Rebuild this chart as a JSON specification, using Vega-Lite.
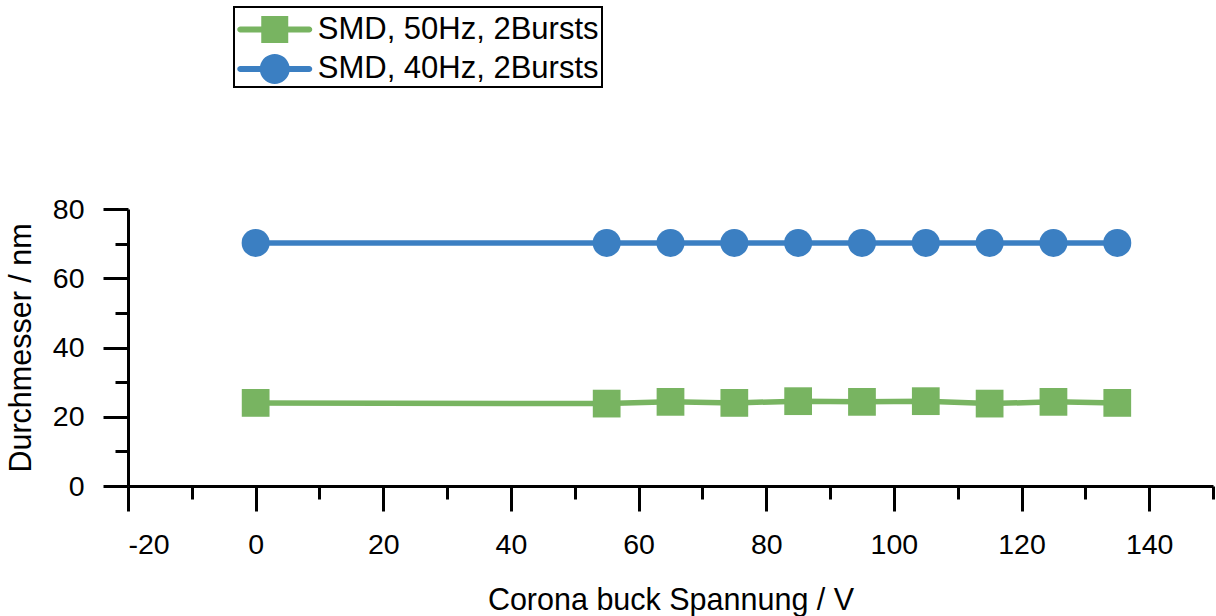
{
  "$schema": "https://vega.github.io/schema/vega-lite/v6.json",
  "autosize": {"type": "none"},
  "padding": {"left": 128, "top": 209, "right": 3, "bottom": 130},
  "width": 1085,
  "height": 277,
  "background": "white",
  "config": {
    "view": {"stroke": null},
    "font": "Liberation Sans",
    "axis": {"grid": false}
  },
  "data": {
    "values": [
      {"series": "A", "v": 0, "d": 24.0},
      {"series": "A", "v": 55, "d": 23.8},
      {"series": "A", "v": 65, "d": 24.3},
      {"series": "A", "v": 75, "d": 24.0},
      {"series": "A", "v": 85, "d": 24.5},
      {"series": "A", "v": 95, "d": 24.3},
      {"series": "A", "v": 105, "d": 24.5},
      {"series": "A", "v": 115, "d": 23.8},
      {"series": "A", "v": 125, "d": 24.3},
      {"series": "A", "v": 135, "d": 24.0},
      {"series": "B", "v": 0, "d": 70.2},
      {"series": "B", "v": 55, "d": 70.2},
      {"series": "B", "v": 65, "d": 70.2},
      {"series": "B", "v": 75, "d": 70.2},
      {"series": "B", "v": 85, "d": 70.2},
      {"series": "B", "v": 95, "d": 70.2},
      {"series": "B", "v": 105, "d": 70.2},
      {"series": "B", "v": 115, "d": 70.2},
      {"series": "B", "v": 125, "d": 70.2},
      {"series": "B", "v": 135, "d": 70.2}
    ]
  },
  "resolve": {"axis": {"x": "independent", "y": "independent"}},
  "layer": [
    {
      "mark": {"type": "point", "filled": true, "opacity": 0},
      "encoding": {
        "x": {
          "field": "v", "type": "quantitative",
          "scale": {"domain": [-20, 150], "nice": false, "zero": false},
          "axis": {
            "orient": "bottom", "values": [-10, 10, 30, 50, 70, 90, 110, 130, 150],
            "labels": false, "domain": false, "ticks": true, "tickSize": 13, "tickWidth": 3,
            "tickColor": "black", "title": null, "grid": false
          }
        },
        "y": {
          "field": "d", "type": "quantitative",
          "scale": {"domain": [0, 80], "nice": false},
          "axis": {
            "orient": "left", "values": [10, 30, 50, 70],
            "labels": false, "domain": false, "ticks": true, "tickSize": 13, "tickWidth": 3,
            "tickColor": "black", "title": null, "grid": false
          }
        }
      }
    },
    {
      "mark": {"type": "line", "strokeWidth": 5.5},
      "encoding": {
        "x": {
          "field": "v", "type": "quantitative",
          "scale": {"domain": [-20, 150], "nice": false, "zero": false},
          "axis": {
            "orient": "bottom", "values": [-20, 0, 20, 40, 60, 80, 100, 120, 140],
            "labelExpr": "'' + datum.value",
            "domain": true, "domainColor": "black", "domainWidth": 3,
            "ticks": true, "tickSize": 25, "tickWidth": 3, "tickColor": "black",
            "labelFont": "Liberation Sans", "labelFontSize": 28.5, "labelColor": "black", "labelPadding": 19,
            "title": "Corona buck Spannung / V",
            "titleFont": "Liberation Sans", "titleFontSize": 30.5, "titleFontWeight": "normal", "titleColor": "black", "titlePadding": 27,
            "grid": false
          }
        },
        "y": {
          "field": "d", "type": "quantitative",
          "scale": {"domain": [0, 80], "nice": false},
          "axis": {
            "orient": "left", "values": [0, 20, 40, 60, 80],
            "domain": true, "domainColor": "black", "domainWidth": 3,
            "ticks": true, "tickSize": 25, "tickWidth": 3, "tickColor": "black",
            "labelFont": "Liberation Sans", "labelFontSize": 28.5, "labelColor": "black", "labelPadding": 19,
            "title": "Durchmesser / nm",
            "titleFont": "Liberation Sans", "titleFontSize": 30.5, "titleFontWeight": "normal", "titleColor": "black", "titlePadding": 16,
            "grid": false
          }
        },
        "color": {
          "field": "series", "type": "nominal",
          "scale": {"domain": ["A", "B"], "range": ["#78b461", "#3b7fc2"]},
          "legend": {
            "title": null,
            "orient": "none",
            "legendX": 106,
            "legendY": -202,
            "padding": 3,
            "rowPadding": 4.5,
            "symbolSize": 1482,
            "symbolOffset": 18.25,
            "labelOffset": 23.5,
            "labelFont": "Liberation Sans",
            "labelFontSize": 31,
            "labelColor": "black",
            "labelLimit": 400,
            "strokeColor": "black",
            "labelExpr": "datum.value == 'A' ? 'SMD, 50Hz, 2Bursts' : 'SMD, 40Hz, 2Bursts'",
            "encode": {
              "legend": {"update": {"strokeWidth": {"value": 2}}},
              "symbols": {
                "update": {
                  "shape": {"signal": "datum.value == 'A' ? 'M-1.792,-0.156H-0.701V-0.701H0.701V-0.156H1.792A0.156,0.156 0 0 1 1.792,0.156H0.701V0.701H-0.701V0.156H-1.792A0.156,0.156 0 0 1 -1.792,-0.156Z' : 'M-1.792,-0.156H-0.763A0.779,0.779 0 0 1 0.763,-0.156H1.792A0.156,0.156 0 0 1 1.792,0.156H0.763A0.779,0.779 0 0 1 -0.763,0.156H-1.792A0.156,0.156 0 0 1 -1.792,-0.156Z'"},
                  "fill": {"scale": "color", "field": "value"},
                  "stroke": {"value": "transparent"},
                  "strokeWidth": {"value": 0},
                  "opacity": {"value": 1},
                  "size": {"value": 1482}
                }
              }
            }
          }
        }
      }
    },
    {
      "transform": [{"filter": {"field": "series", "equal": "A"}}],
      "mark": {"type": "point", "shape": "square", "filled": true, "opacity": 1, "size": 770},
      "encoding": {
        "x": {"field": "v", "type": "quantitative", "axis": null},
        "y": {"field": "d", "type": "quantitative", "axis": null},
        "color": {"field": "series", "type": "nominal"}
      }
    },
    {
      "transform": [{"filter": {"field": "series", "equal": "B"}}],
      "mark": {"type": "point", "shape": "circle", "filled": true, "opacity": 1, "size": 785},
      "encoding": {
        "x": {"field": "v", "type": "quantitative", "axis": null},
        "y": {"field": "d", "type": "quantitative", "axis": null},
        "color": {"field": "series", "type": "nominal"}
      }
    }
  ]
}
